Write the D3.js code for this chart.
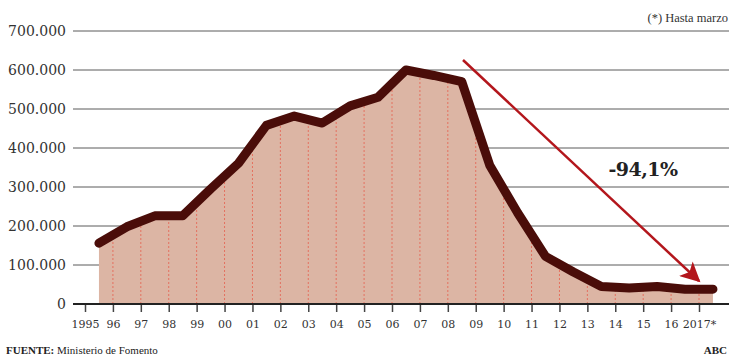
<!DOCTYPE html>
<html>
<head>
<meta charset="utf-8">
<script src="https://cdn.jsdelivr.net/npm/d3@7"></script>
<style>
  body { margin: 0; background: #fff; }
  svg { display: block; }
  text { font-family: "DejaVu Serif", "Liberation Serif", serif; }
</style>
</head>
<body>
<div class="svg"></div>
<script>
var years = d3.range(1995, 2018);
var values = [156000, 198000, 226000, 226000, 295000, 361000, 458000, 482000, 464000, 508000,
  530000, 600000, 586000, 570000, 356000, 234000, 122000, 82000, 45000, 41000, 45000, 38000, 38000];
var yTicks = [0, 100000, 200000, 300000, 400000, 500000, 600000, 700000];
var note = "(*) Hasta marzo";
var changeLabel = "-94,1%";
var source = "Ministerio de Fomento";

var loc = d3.formatLocale({decimal: ",", thousands: ".", grouping: [3], currency: ["", ""]});
var numFormat = loc.format(",d");
var yearFormat = function(y) {
  if (y === 1995) return "1995";
  if (y === 2017) return "2017*";
  return String(y).slice(2);
};

var W = 729, H = 358;
var svg = d3.select(".svg").append("svg").attr("width", W).attr("height", H);

// scales
var x = d3.scaleLinear().domain([1995, 2017]).range([85, 699]);
var y = d3.scaleLinear().domain([0, 700000]).range([304, 31]);
var xPoint = function(d, i) { return x(years[i] + 0.5); };
var data = values;

// gridlines + y labels
var grid = svg.append("g");
grid.selectAll("line").data(yTicks).enter().append("line")
  .attr("x1", 73).attr("x2", W)
  .attr("y1", d => y(d)).attr("y2", d => y(d))
  .attr("stroke", "#5a5a5a").attr("stroke-width", 1);
grid.selectAll("text").data(yTicks).enter().append("text")
  .attr("x", 66).attr("y", d => y(d) + 5)
  .attr("text-anchor", "end")
  .attr("font-size", 14).attr("fill", "#333")
  .text(numFormat);

// area
var area = d3.area()
  .x(xPoint).y0(y(0)).y1(d => y(d));
svg.append("clipPath").attr("id", "areaClip")
  .append("path").datum(data).attr("d", area);
svg.append("path").datum(data)
  .attr("fill", "#dcb5a4")
  .attr("d", area);

// dotted year lines inside area
svg.append("g").attr("clip-path", "url(#areaClip)")
  .selectAll("line").data(years.slice(1)).enter().append("line")
  .attr("x1", d => x(d)).attr("x2", d => x(d))
  .attr("y1", y(0)).attr("y2", y(700000))
  .attr("stroke", "#e4705f").attr("stroke-width", 1)
  .attr("stroke-dasharray", "2,2");

// main line
svg.append("path").datum(data)
  .attr("fill", "none")
  .attr("stroke", "#4a0d09")
  .attr("stroke-width", 9)
  .attr("stroke-linejoin", "round")
  .attr("stroke-linecap", "round")
  .attr("d", d3.line().x(xPoint).y(d => y(d)));

// x axis
var xAxis = svg.append("g")
  .attr("transform", "translate(0," + y(0) + ")")
  .call(d3.axisBottom(x).tickValues(years).tickFormat(yearFormat).tickSize(8).tickPadding(8).tickSizeOuter(0));
xAxis.select(".domain").remove();
xAxis.selectAll(".tick line").attr("stroke", "#444").attr("stroke-width", 1.5);
xAxis.selectAll(".tick text").attr("font-size", 11).attr("fill", "#333")
  .style("font-family", "DejaVu Serif, serif");
svg.append("line")
  .attr("x1", 73).attr("x2", W).attr("y1", y(0)).attr("y2", y(0))
  .attr("stroke", "#222").attr("stroke-width", 2);

// arrow
svg.append("defs").append("marker")
  .attr("id", "head").attr("viewBox", "0 0 10 10")
  .attr("refX", 9).attr("refY", 5)
  .attr("markerWidth", 9).attr("markerHeight", 8)
  .attr("markerUnits", "strokeWidth")
  .attr("orient", "auto")
  .append("path").attr("d", "M0,0 L10,5 L0,10 L2.5,5 Z").attr("fill", "#b3161c");
svg.append("line")
  .attr("x1", 463).attr("y1", 60)
  .attr("x2", 699).attr("y2", 281)
  .attr("stroke", "#b3161c").attr("stroke-width", 2.5)
  .attr("marker-end", "url(#head)");

svg.append("text")
  .attr("x", 643).attr("y", 176)
  .attr("text-anchor", "middle")
  .attr("font-size", 19).attr("font-weight", "bold").attr("fill", "#222")
  .attr("letter-spacing", -0.5)
  .text(changeLabel);

// notes
svg.append("text")
  .attr("x", W - 1).attr("y", 22)
  .attr("text-anchor", "end")
  .attr("font-size", 12.5).attr("fill", "#333")
  .style("font-family", "Liberation Serif, serif")
  .text(note);

var src = svg.append("text")
  .attr("x", 6).attr("y", 354)
  .attr("font-size", 11).attr("fill", "#222")
  .style("font-family", "Liberation Serif, serif");
src.append("tspan").attr("font-weight", "bold").text("FUENTE: ");
src.append("tspan").text(source);

svg.append("text")
  .attr("x", W - 2).attr("y", 354)
  .attr("text-anchor", "end")
  .attr("font-size", 11).attr("font-weight", "bold").attr("fill", "#222")
  .style("font-family", "Liberation Serif, serif")
  .text("ABC");
</script>
</body>
</html>
